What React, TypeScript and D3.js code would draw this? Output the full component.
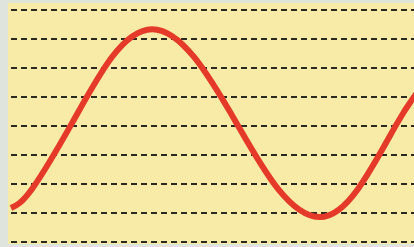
import React from "react";
import * as d3 from "d3";

// grid line values (top to bottom)
const gridValues = [4, 3, 2, 1, 0, -1, -2, -3, -4];

// red wave (x in chart units, y in grid units)
const waveX = [1, 22, 62, 102, 142, 184, 227, 268, 309, 348, 386, 406];
const waveY = [-2.83, -2.17, 0.1, 2.38, 3.34, 2.38, 0.07, -2.17, -3.14, -2.17, 0.03, 1.1];

const W = 414;
const H = 247;

export default function App() {
  const x = d3.scaleLinear().domain([0, 404]).range([10, 414]);
  const y = d3.scaleLinear().domain([-4, 4]).range([242, 10]);
  const pts: [number, number][] = waveX.map((v, i) => [v, waveY[i]]);
  const line = d3
    .line<[number, number]>()
    .x((d) => x(d[0]))
    .y((d) => y(d[1]))
    .curve(d3.curveNatural);
  return (
    <svg
      width={W}
      height={H}
      style={{ position: "absolute", left: 0, top: 0, display: "block" }}
    >
      <rect x={0} y={0} width={W} height={H} fill="#dfe5dc" />
      <rect x={8} y={3} width={W - 8} height={241} fill="#f8eaa7" />
      {gridValues.map((g) => (
        <line
          key={g}
          x1={11}
          x2={W}
          y1={y(g)}
          y2={y(g)}
          stroke="#2b2a22"
          strokeWidth={2}
          strokeDasharray="6,4"
        />
      ))}
      <defs>
        <clipPath id="clip">
          <rect x={8} y={0} width={W - 8} height={H} />
        </clipPath>
      </defs>
      <path
        d={line(pts) || ""}
        fill="none"
        stroke="#e5392a"
        strokeWidth={6}
        clipPath="url(#clip)"
      />
    </svg>
  );
}
